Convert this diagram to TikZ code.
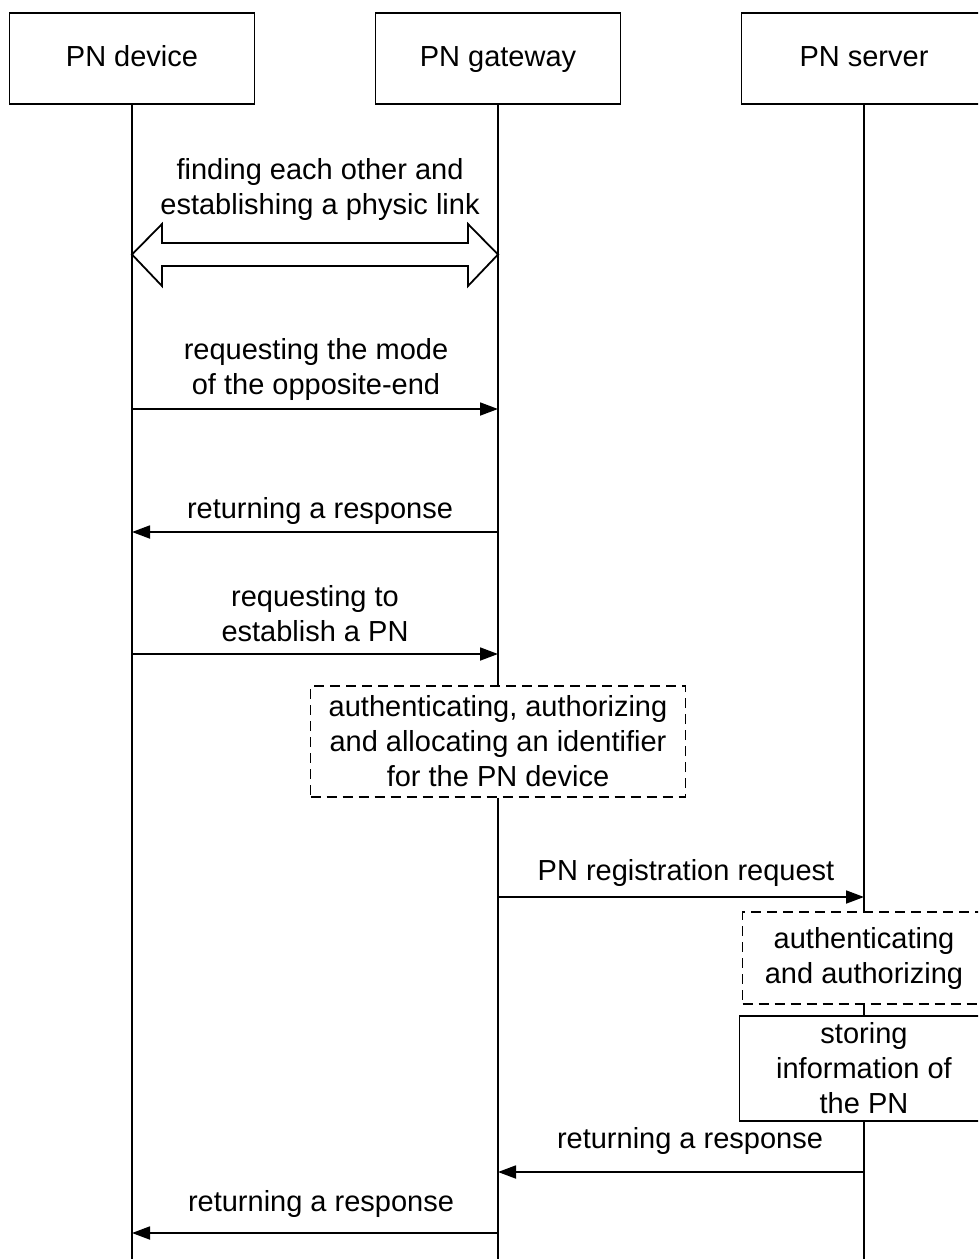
\documentclass[tikz,border=0pt]{standalone}
\usepackage{fontspec}
\setmainfont{Liberation Sans}
\usetikzlibrary{arrows.meta}
\begin{document}
\begin{tikzpicture}[x=1pt,y=-1pt,line width=1.8pt,
  every node/.style={font=\fontsize{29}{35}\selectfont, inner sep=0pt},
  head/.style={draw, minimum width=245pt, minimum height=91pt, text height=21pt, text depth=6pt},
  msg/.style={-{Triangle[length=18pt,width=13pt]}},
  lbl/.style={align=center},
  actdash/.style={draw, dash pattern=on 10pt off 6pt, align=center},
  actsolid/.style={draw, align=center}]
\useasboundingbox (0,0) rectangle (978,1259);
\clip (0,0) rectangle (978,1259);
% headers
\node[head] (dev) at (132,58.5) {PN device};
\node[head] (gw)  at (498,58.5) {PN gateway};
\node[head] (srv) at (864,58.5) {PN server};
\coordinate (devend) at (132,1262);
\coordinate (gwend) at (498,1262);
\coordinate (srvend) at (864,1262);
% activity boxes
\node[actdash, minimum width=375pt, minimum height=111pt] (auth1) at (498,741.5)
  {authenticating, authorizing\\and allocating an identifier\\for the PN device};
\node[actdash, minimum width=243pt, minimum height=92pt] (auth2) at (864,958)
  {authenticating\\and authorizing};
\node[actsolid, minimum width=249pt, minimum height=105pt] (store) at (864,1068.5)
  {storing\\information of\\the PN};
% lifelines
\draw (dev.south) -- (devend);
\draw (gw.south) -- (gw.south |- auth1.north);
\draw (gw.south |- auth1.south) -- (gwend);
\draw (srv.south) -- (srv.south |- auth2.north);
\draw (srv.south |- auth2.south) -- (srv.south |- store.north);
\draw (srv.south |- store.south) -- (srvend);
% double block arrow
\draw[line join=miter] (132,254.5) -- (162,224) -- (162,243) -- (468,243) -- (468,224) -- (498,254.5)
  -- (468,286) -- (468,266) -- (162,266) -- (162,286) -- cycle;
\node[lbl] (l1) at (320,189) {finding each other and\\establishing a physic link};
% messages
\draw[msg] (dev.south |- 0,409) -- (gw.south |- 0,409);
\node[lbl] (l2) at (316,369) {requesting the mode\\of the opposite-end};
\draw[msg] (gw.south |- 0,532) -- (dev.south |- 0,532);
\node[lbl] (l3) at (320,511) {returning a response};
\draw[msg] (dev.south |- 0,654) -- (gw.south |- 0,654);
\node[lbl] (l4) at (315,614) {requesting to\\establish a PN};
\draw[msg] (gw.south |- 0,897) -- (srv.south |- 0,897);
\node[lbl] (l5) at (686,873) {PN registration request};
\draw[msg] (srv.south |- 0,1172) -- (gw.south |- 0,1172);
\node[lbl] (l6) at (690,1141) {returning a response};
\draw[msg] (gw.south |- 0,1233) -- (dev.south |- 0,1233);
\node[lbl] (l7) at (321,1204) {returning a response};
\end{tikzpicture}
\end{document}
